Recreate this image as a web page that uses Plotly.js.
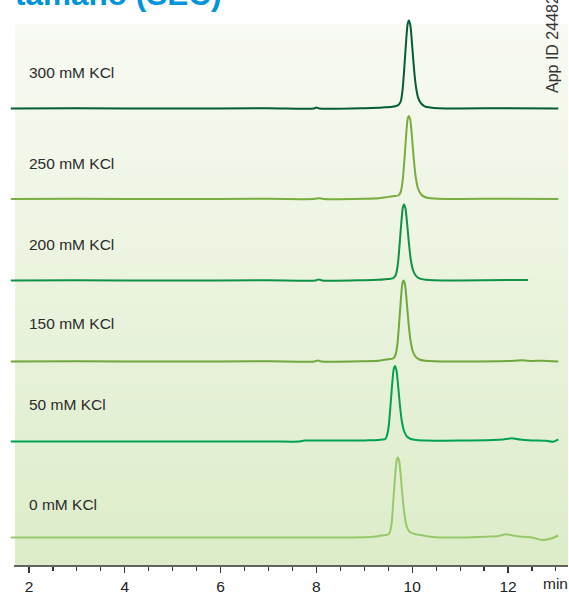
<!DOCTYPE html>
<html>
<head>
<meta charset="utf-8">
<script src="https://cdn.plot.ly/plotly-3.0.1.min.js"></script>
<style>html,body{margin:0;padding:0;background:#fff;}#chart{width:569px;height:594px;}</style>
</head>
<body>
<div id="chart"></div>
<script>
// ---- data (retention time in min, detector signal in arbitrary units above each baseline) ----
var seriesNames = ["300 mM KCl", "250 mM KCl", "200 mM KCl", "150 mM KCl", "50 mM KCl", "0 mM KCl"];

var t300 = [1.62, 3.0, 5.0, 7.0, 7.95, 8.0, 8.06, 9.0, 9.3, 9.43, 9.55, 9.65, 9.71, 9.76, 9.80, 9.84, 9.88, 9.905, 9.93, 9.96, 9.99, 10.03, 10.07, 10.12, 10.18, 10.26, 10.38, 10.55, 11.0, 12.0, 13.05];
var s300 = [0, 0.2, 0, 0.2, 0, 1.0, 0, 0.3, 0.8, 1.2, 1.5, 2.2, 3.5, 7, 19, 44, 72, 84.5, 88, 83.6, 68.6, 44, 24.6, 11.4, 5.3, 2.2, 0.9, 0.2, 0, 0.3, 0];

var t250 = [1.62, 3.0, 5.0, 7.0, 7.95, 8.05, 8.15, 9.0, 9.3, 9.45, 9.55, 9.62, 9.71, 9.76, 9.80, 9.84, 9.88, 9.905, 9.93, 9.96, 9.99, 10.03, 10.07, 10.12, 10.18, 10.26, 10.38, 10.55, 11.0, 12.0, 13.05];
var s250 = [0, 0.2, 0, 0.2, 0, 0.8, 0, 0.3, 0.8, 1.8, 2.5, 3, 3.5, 7, 18, 41, 68, 80, 83, 79, 65, 41.5, 23, 10.8, 5, 2, 0.8, 0.2, 0, 0.3, 0];

var t200 = [1.62, 3.0, 5.0, 7.0, 7.98, 8.05, 8.12, 9.0, 9.3, 9.45, 9.55, 9.61, 9.66, 9.70, 9.74, 9.78, 9.805, 9.83, 9.86, 9.89, 9.93, 9.97, 10.02, 10.08, 10.16, 10.28, 10.45, 11.0, 12.0, 12.42];
var s200 = [0, 0.2, 0, 0.2, 0, 1.0, 0, 0.3, 0.7, 1.3, 1.8, 2.5, 6, 16, 38, 62, 73, 76, 72, 59, 38, 21, 10, 4.6, 1.9, 0.8, 0.2, 0, 0.4, 0.5];

var t150 = [1.62, 3.0, 5.0, 7.0, 7.96, 8.03, 8.10, 9.0, 9.3, 9.45, 9.55, 9.60, 9.65, 9.69, 9.73, 9.77, 9.795, 9.82, 9.85, 9.88, 9.92, 9.96, 10.01, 10.07, 10.15, 10.27, 10.45, 11.0, 12.0, 12.3, 12.5, 12.7, 13.05];
var s150 = [0, 0.2, 0, 0.2, 0, 1.0, 0, 0.3, 0.8, 2, 2.5, 3, 6.5, 17, 40, 66, 78, 81, 77, 63, 40.5, 22.7, 10.5, 4.9, 2, 0.8, 0.2, 0, 0.4, 1.2, 0.5, 0.8, 0];

var t50 = [1.62, 3.0, 5.0, 7.0, 7.65, 7.75, 8.5, 9.0, 9.2, 9.3, 9.38, 9.44, 9.47, 9.51, 9.55, 9.59, 9.615, 9.64, 9.67, 9.70, 9.74, 9.78, 9.83, 9.89, 9.97, 10.09, 10.3, 11.0, 11.69, 11.9, 12.08, 12.25, 12.5, 12.8, 12.94, 13.05];
var s50 = [-0.5, -0.4, -0.5, -0.4, -0.5, 0.4, 0.5, 0.6, 0.8, 1.0, 1.5, 2, 5, 15, 37.5, 61.5, 72, 75, 71, 58.5, 37.5, 21, 10, 4.5, 2, 1, 0.5, 0.4, 1, 1.6, 2.7, 1.4, 0.6, 0.2, -0.7, 1.7];

var t0 = [1.62, 3.0, 5.0, 7.0, 8.0, 9.0, 9.24, 9.35, 9.45, 9.50, 9.53, 9.57, 9.61, 9.65, 9.675, 9.70, 9.73, 9.76, 9.80, 9.84, 9.89, 9.95, 10.05, 10.18, 10.35, 10.5, 11.0, 11.56, 11.8, 11.96, 12.1, 12.3, 12.5, 12.71, 12.9, 13.05];
var s0 = [0, 0.1, 0, 0.1, 0, 0.2, 1, 2, 2.5, 3, 5, 14, 40, 65.6, 77, 80, 76, 62.4, 40, 22.4, 10.4, 5.5, 3.5, 2.5, 1, 0.3, 0, 0.8, 1.5, 3.2, 2, 0.8, 0, -2.5, -1, 2];

var tickValues = [2, 4, 6, 8, 10, 12];
var tickLabels = ["2", "4", "6", "8", "10", "12"];
var axisUnit = "min";
var titleText = "tamaño (SEC)";
var appIdText = "App ID 24482";

// ---- styling / layout (not data) ----
var times = [t300, t250, t200, t150, t50, t0];
var signals = [s300, s250, s200, s150, s50, s0];
var style = [
  {color: "#065c33", offset: 457.5, lift: 36.5},
  {color: "#78ad3f", offset: 367, lift: 36},
  {color: "#0f9246", offset: 285.5, lift: 36.5},
  {color: "#6fa83e", offset: 204.5, lift: 38.5},
  {color: "#00a24f", offset: 125, lift: 37},
  {color: "#97c96b", offset: 28.5, lift: 33.5}
];

var W = 569, H = 594, mL = 10, mR = 1, mT = 16, mB = 28;
var plotW = W - mL - mR, plotH = H - mT - mB;
var bgLeftPx = 15, bgTopPx = 24, axisLeftPx = 14;
var FONT = "Liberation Sans, Arial, Helvetica, sans-serif";

var traces = [];
var annotations = [];
for (var i = 0; i < seriesNames.length; i++) {
  var ys = signals[i].map(function (v) { return v + style[i].offset; });
  traces.push({
    type: "scatter", mode: "lines", x: times[i], y: ys, name: seriesNames[i],
    line: {color: style[i].color, width: 2, shape: "spline", smoothing: 0.7},
    hoverinfo: "skip", showlegend: false
  });
  annotations.push({
    text: seriesNames[i], x: 2, xref: "x", y: style[i].offset + style[i].lift, yref: "y",
    xanchor: "left", yanchor: "middle", xshift: -2, showarrow: false,
    font: {family: FONT, size: 15.5, color: "#2b2b2b"}
  });
}

annotations.push({
  text: axisUnit, x: 13, xref: "x", y: 0, yref: "paper", yanchor: "top", xanchor: "center",
  yshift: -7, showarrow: false, font: {family: FONT, size: 15.5, color: "#222"}
});
annotations.push({
  text: "<b>" + titleText + "</b>", x: (bgLeftPx - mL) / plotW, xref: "paper", y: 1, yref: "paper",
  xanchor: "left", yanchor: "bottom", yshift: 2, xshift: -2, showarrow: false,
  font: {family: FONT, size: 31.5, color: "#0095d8"}
});
annotations.push({
  text: appIdText, x: (552 - mL) / plotW, xref: "paper",
  y: ((H - mB) - 95) / plotH, yref: "paper",
  xanchor: "center", yanchor: "bottom", textangle: -90, showarrow: false,
  font: {family: FONT, size: 16, color: "#333"}
});

// vertical gradient background as stacked strips
var shapes = [];
var bgTop = [248, 250, 243], bgBot = [220, 236, 200], NS = 60;
var bgX0 = (bgLeftPx - mL) / plotW, bgY1 = ((H - mB) - bgTopPx) / plotH;
for (var k = 0; k < NS; k++) {
  var f = (k + 0.5) / NS;
  var c = bgTop.map(function (a, j) { return Math.round(a + (bgBot[j] - a) * f); });
  shapes.push({
    type: "rect", xref: "paper", yref: "paper", x0: bgX0, x1: 1,
    y0: Math.max(0, bgY1 * (1 - (k + 1) / NS) - 0.002), y1: bgY1 * (1 - k / NS), layer: "below",
    line: {width: 0}, fillcolor: "rgb(" + c.join(",") + ")"
  });
}
// axis baseline
shapes.push({
  type: "line", xref: "paper", yref: "paper", x0: (axisLeftPx - mL) / plotW, x1: 1, y0: 0, y1: 0,
  line: {color: "#333", width: 1.5}, layer: "above"
});

var layout = {
  width: W, height: H,
  margin: {l: mL, r: mR, t: mT, b: mB, pad: 0},
  paper_bgcolor: "#ffffff", plot_bgcolor: "rgba(0,0,0,0)",
  showlegend: false,
  xaxis: {
    range: [2 - 19 / 47.9, 2 + 539 / 47.9], showgrid: false, zeroline: false, showline: false,
    ticks: "outside", ticklen: 6, tickwidth: 1.3,
    tickcolor: "#333", tickvals: tickValues, ticktext: tickLabels,
    tickfont: {family: FONT, size: 15.5, color: "#222"},
    minor: {dtick: 0.5, tick0: 0, ticks: "outside", ticklen: 4, tickwidth: 1.1, tickcolor: "#333", showgrid: false},
    fixedrange: true
  },
  yaxis: {range: [0, plotH], visible: false, fixedrange: true},
  annotations: annotations,
  shapes: shapes
};

Plotly.newPlot("chart", traces, layout, {staticPlot: true, displayModeBar: false});
</script>
</body>
</html>
